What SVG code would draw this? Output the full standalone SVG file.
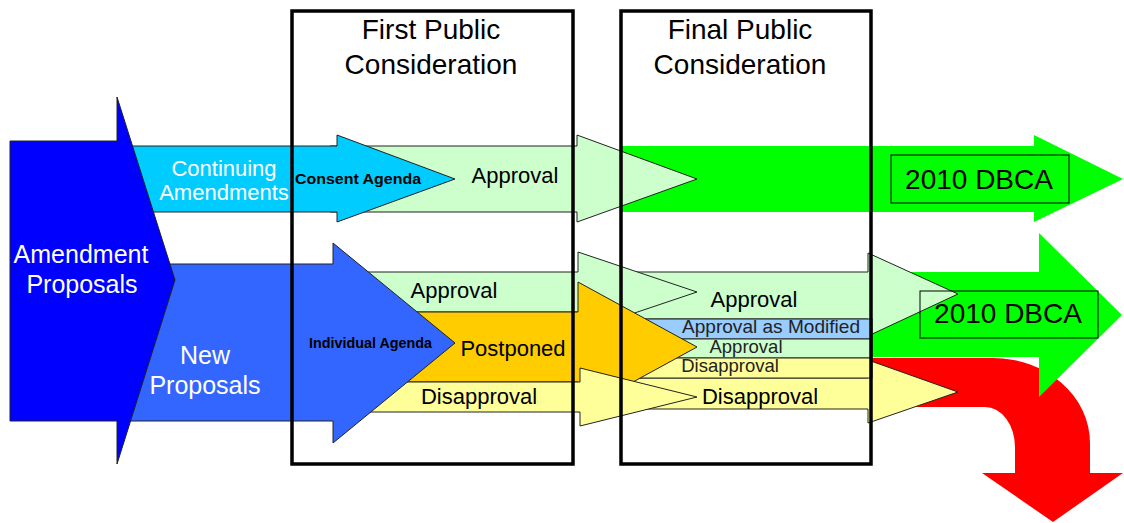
<svg xmlns="http://www.w3.org/2000/svg" width="1124" height="523" viewBox="0 0 1124 523">
  <style>
    text { font-family: "Liberation Sans", Arial, sans-serif; }
    .ol { stroke: #222; stroke-width: 1; stroke-linejoin: miter; }
    .lt { fill: #ccffcc; }
    .yl { fill: #ffff99; }
    .or { fill: #ffcc00; }
    .mod { fill: #99ccff; }
    .stage { fill: none; stroke: #000; stroke-width: 3.5; }
    .title { font-size: 28px; fill: #000; text-anchor: middle; }
    .lbl { font-size: 22px; fill: #000; text-anchor: middle; }
    .sm { font-size: 18.5px; fill: #222; text-anchor: middle; }
    .wh { fill: #fff; text-anchor: middle; }
    .agenda { font-weight: bold; fill: #000; }
    .dbca { fill: none; stroke: #000; stroke-width: 1; }
    .dbca-t { font-size: 28px; fill: #000; text-anchor: middle; }
  </style>

  <!-- outcome flows: adopted into the 2010 code, or dropped -->
  <g id="connectors">
    <path id="flow-consent-adopted" d="M620,146 H1034 V135 L1123,179 L1034,222 V212 H620 Z" fill="#00ff00"/>
    <path id="flow-rejected" d="M872,358 H993 A97,85 0 0 1 1090,443 V473 H1123 L1053,522 L982,473 H1015 V447 A30,40 0 0 0 985,407 H872 Z" fill="#ff0000"/>
    <path id="flow-individual-adopted" d="M872,272 H1039 V233 L1122,315 L1039,397 V357 H872 Z" fill="#00ff00"/>
  </g>

  <!-- final public consideration results -->
  <g id="final-approval">
    <path class="ol lt" d="M610,272 H868 V253 L958,294 L868,336 V319 H610 Z"/>
  </g>
  <g id="final-disapproval">
    <path class="ol yl" d="M610,378 H868 V360 L958,392 L868,423 V409 H610 Z"/>
  </g>
  <g id="final-approval-modified">
    <rect class="ol mod" x="610" y="319" width="262" height="20"/>
  </g>
  <g id="final-approval-small">
    <rect class="ol lt" x="610" y="339" width="262" height="19"/>
  </g>
  <g id="final-disapproval-small">
    <rect class="ol yl" x="610" y="358" width="262" height="20"/>
  </g>

  <!-- first public consideration results -->
  <g id="first-approval">
    <path class="ol lt" d="M340,272 H578 V252 L697,292 L578,332 V312 H340 Z"/>
  </g>
  <g id="first-postponed">
    <path class="ol or" d="M340,312 H578 V282 L697,347 L578,412 V382 H340 Z"/>
  </g>
  <g id="first-disapproval">
    <path class="ol yl" d="M340,382 H580 V368 L697,397 L580,426 V412 H340 Z"/>
  </g>

  <!-- consent agenda path -->
  <g id="consent-approval">
    <path class="ol lt" d="M330,146 H577 V135 L697,179 L577,222 V212 H330 Z"/>
  </g>
  <g id="continuing-amendments">
    <path class="ol" d="M117,146 H337 V135 L455,179 L337,222 V212 H117 Z" fill="#00ccff"/>
  </g>

  <!-- individual agenda path -->
  <g id="new-proposals">
    <path class="ol" d="M117,264 H333 V243 L455,343 L333,443 V421 H117 Z" fill="#3366ff"/>
  </g>

  <g id="amendment-proposals">
    <path class="ol" d="M10,141 H117 V97 L175,280 L117,464 V421 H10 Z" fill="#0000ff"/>
    <text class="wh" x="81" y="263" font-size="25">Amendment</text>
    <text class="wh" x="82" y="293" font-size="25">Proposals</text>
  </g>

  <!-- consideration stages -->
  <g id="first-public-consideration">
    <rect class="stage" x="292" y="11" width="281" height="453"/>
    <text class="title" x="431" y="39">First Public</text>
    <text class="title" x="431" y="74">Consideration</text>
  </g>
  <g id="final-public-consideration">
    <rect class="stage" x="621" y="11" width="250" height="453"/>
    <text class="title" x="740" y="39">Final Public</text>
    <text class="title" x="740" y="74">Consideration</text>
  </g>

  <!-- labels -->
  <text class="wh" x="224" y="176" font-size="22">Continuing</text>
  <text class="wh" x="224" y="200" font-size="22">Amendments</text>
  <text class="agenda" x="295" y="184" font-size="15" textLength="126" lengthAdjust="spacingAndGlyphs">Consent Agenda</text>
  <text class="lbl" x="515" y="183">Approval</text>

  <text class="wh" x="205" y="364" font-size="25">New</text>
  <text class="wh" x="205" y="394" font-size="25">Proposals</text>
  <text class="agenda" x="309" y="348" font-size="14" textLength="123" lengthAdjust="spacingAndGlyphs">Individual Agenda</text>
  <text class="lbl" x="454" y="298">Approval</text>
  <text class="lbl" x="513" y="356">Postponed</text>
  <text class="lbl" x="479" y="404">Disapproval</text>

  <text class="lbl" x="754" y="307">Approval</text>
  <text class="sm" x="771" y="333" font-size="18" textLength="178" lengthAdjust="spacingAndGlyphs">Approval as Modified</text>
  <text class="sm" x="746" y="353">Approval</text>
  <text class="sm" x="730" y="372">Disapproval</text>
  <text class="lbl" x="760" y="404">Disapproval</text>

  <!-- adopted code boxes -->
  <g id="dbca-consent">
    <rect class="dbca" x="891" y="155" width="178" height="48"/>
    <text class="dbca-t" x="979" y="189">2010 DBCA</text>
  </g>
  <g id="dbca-individual">
    <rect class="dbca" x="920" y="291" width="178" height="47"/>
    <text class="dbca-t" x="1008" y="323">2010 DBCA</text>
  </g>
</svg>
